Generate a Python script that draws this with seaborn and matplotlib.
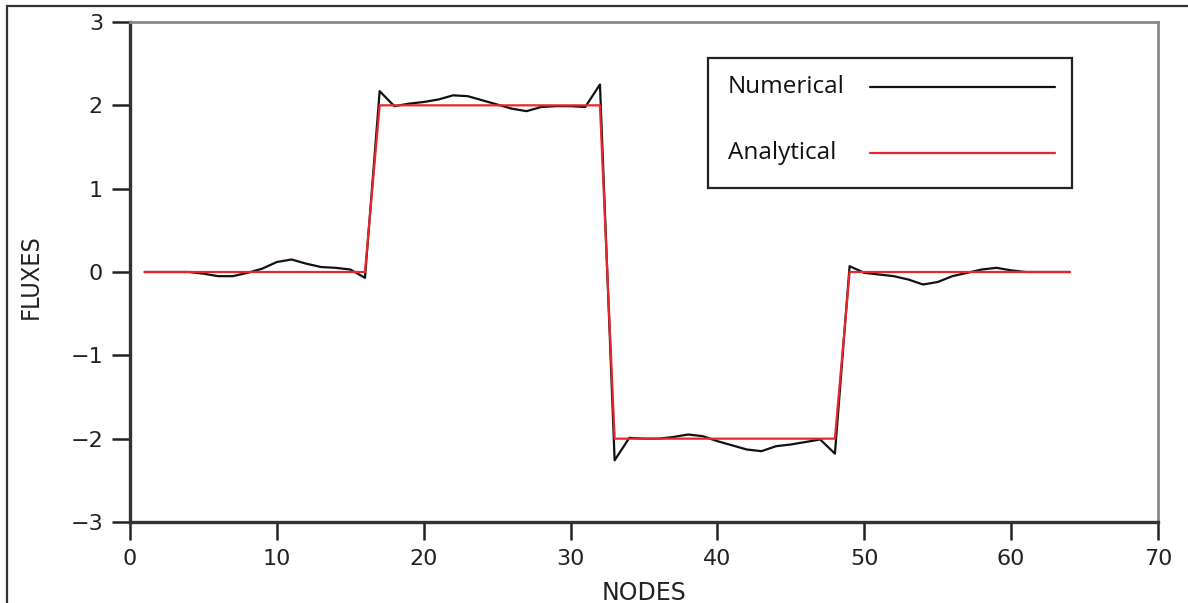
import matplotlib

matplotlib.use("Agg")

import numpy as np
import pandas as pd
import seaborn as sns
from matplotlib import pyplot as plt
from matplotlib.lines import Line2D
from matplotlib.patches import Rectangle

# nodes 1..64
nodes = np.arange(1, 65)

analytical = [0.0] * 16 + [2.0] * 16 + [-2.0] * 16 + [0.0] * 16

numerical = [
    0.00, 0.00, 0.00, 0.00, -0.02, -0.05, -0.05, -0.01,
    0.04, 0.12, 0.15, 0.10, 0.06, 0.05, 0.03, -0.07,
    2.17, 1.99, 2.02, 2.04, 2.07, 2.12, 2.11, 2.06,
    2.01, 1.96, 1.93, 1.98, 1.99, 1.99, 1.98, 2.25,
    -2.26, -1.99, -2.00, -2.00, -1.98, -1.95, -1.97, -2.03,
    -2.08, -2.13, -2.15, -2.09, -2.07, -2.04, -2.01, -2.18,
    0.07, -0.01, -0.03, -0.05, -0.09, -0.15, -0.12, -0.05,
    -0.01, 0.03, 0.05, 0.02, 0.00, 0.00, 0.00, 0.00,
]

x_ticks = [0, 10, 20, 30, 40, 50, 60, 70]
y_ticks = [-3, -2, -1, 0, 1, 2, 3]

series_names = ["Numerical", "Analytical"]
series_colors = ["#111111", "#e8262b"]

df = pd.DataFrame({"node": nodes, "numerical": numerical, "analytical": analytical})

sns.set_style("ticks")
plt.rcParams["font.family"] = ["DejaVu Sans"]

W, H = 1188, 603
fig = plt.figure(figsize=(W / 100, H / 100), dpi=100)
ax = fig.add_axes([130 / W, 1 - 522 / H, 1028 / W, 500 / H])

sns.lineplot(data=df, x="node", y="numerical", color=series_colors[0],
             linewidth=1.6, ax=ax, legend=False)
sns.lineplot(data=df, x="node", y="analytical", color=series_colors[1],
             linewidth=1.6, ax=ax, legend=False)

ax.set_xlim(0, 70)
ax.set_ylim(-3, 3)
ax.set_xticks(x_ticks)
ax.set_yticks(y_ticks)
ax.tick_params(axis="both", direction="out", length=13, width=1.8,
               color="#222222", labelsize=16, pad=6.5, labelcolor="#222222")

for side in ["left", "bottom"]:
    ax.spines[side].set_color("#333333")
    ax.spines[side].set_linewidth(2.4)
for side in ["top", "right"]:
    ax.spines[side].set_visible(True)
    ax.spines[side].set_color("#888888")
    ax.spines[side].set_linewidth(2.0)

ax.set_xlabel("NODES", fontsize=17, color="#222222")
ax.set_ylabel("FLUXES", fontsize=18, color="#222222", fontstretch="condensed")
ax.xaxis.set_label_coords(0.5, -0.118)
ax.yaxis.set_label_coords(-0.085, 0.49)

# legend box drawn by hand: labels left-aligned, sample lines on the right
fig.add_artist(Rectangle((708 / W, 1 - 188 / H), 364 / W, 130 / H,
                         transform=fig.transFigure, fill=False,
                         edgecolor="#222222", linewidth=1.6))
for i, (name, col) in enumerate(zip(series_names, series_colors)):
    yy = 1 - (87 + 66 * i) / H
    fig.text(728 / W, yy, name, ha="left", va="center", fontsize=17.5,
             color="#111111", family=["Open Sans", "DejaVu Sans"])
    fig.add_artist(Line2D([870 / W, 1055 / W], [yy, yy],
                          transform=fig.transFigure, color=col, linewidth=1.6))

# outer frame of the picture (right and bottom edges fall outside)
fig.add_artist(Rectangle((7 / W, -0.2), 1.2, 1.2 - 6 / H,
                         transform=fig.transFigure, fill=False,
                         edgecolor="#333333", linewidth=1.6, clip_on=False))

fig.savefig("out.png", dpi=100, facecolor="white")
